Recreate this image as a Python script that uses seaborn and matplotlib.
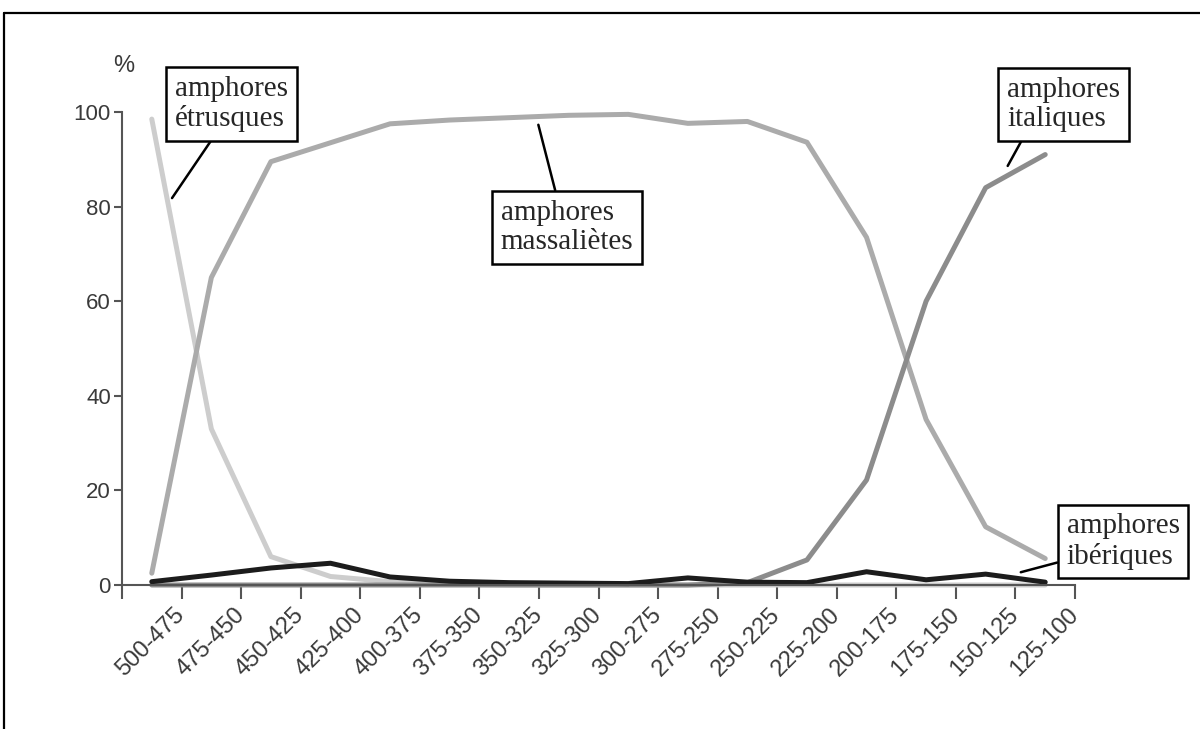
import numpy as np
import pandas as pd
import matplotlib
matplotlib.use("Agg")
import matplotlib.pyplot as plt
import seaborn as sns

# ----------------------------------------------------------------------
# data (percent of amphorae per 25-year period)
# ----------------------------------------------------------------------
periods = ["500-475", "475-450", "450-425", "425-400", "400-375", "375-350",
           "350-325", "325-300", "300-275", "275-250", "250-225", "225-200",
           "200-175", "175-150", "150-125", "125-100"]

etrusques = [98.5, 33, 6, 1.8, 0.7, 0.2, 0, 0, 0, 0, 0, 0, 0, 0, 0, 0]
massaliotes = [2.5, 65, 89.5, 93.5, 97.5, 98.3, 98.8, 99.3, 99.5, 97.6,
               98, 93.6, 73.5, 35, 12.3, 5.6]
italiques = [0, 0, 0, 0, 0, 0, 0, 0, 0, 0, 0.5, 5.3, 22.2, 60, 84, 91]
iberiques = [0.7, 2.1, 3.6, 4.6, 1.7, 0.8, 0.5, 0.4, 0.3, 1.5, 0.6, 0.5,
             2.8, 1.1, 2.3, 0.6]

series_names = ["amphores étrusques", "amphores massaliètes",
                "amphores italiques", "amphores ibériques"]
series_colors = ["#cdcdcd", "#ababab", "#8c8c8c", "#1c1c1c"]

# long-form table for seaborn
pos = np.arange(len(periods))
df = pd.concat([
    pd.DataFrame({"pos": pos, "value": vals, "series": name})
    for name, vals in zip(series_names,
                          [etrusques, massaliotes, italiques, iberiques])
], ignore_index=True)

# ----------------------------------------------------------------------
# plot
# ----------------------------------------------------------------------
sns.set_style("white")
plt.rcParams["font.family"] = ["Liberation Sans", "DejaVu Sans"]

fig = plt.figure(figsize=(12, 7.29), dpi=100)
ax = fig.add_axes([122 / 1200, 1 - 585 / 729, 953 / 1200, 473 / 729])

sns.lineplot(data=df, x="pos", y="value", hue="series",
             hue_order=series_names, palette=series_colors,
             linewidth=3.6, legend=False, ax=ax, clip_on=False)
for ln in ax.lines:
    ln.set_solid_joinstyle("round")
    ln.set_solid_capstyle("round")

ax.set_xlim(-0.5, len(periods) - 0.5)
ax.set_ylim(0, 100)

# axes styling
for side in ["top", "right"]:
    ax.spines[side].set_visible(False)
for side in ["left", "bottom"]:
    ax.spines[side].set_color("#555555")
    ax.spines[side].set_linewidth(1.5)

ax.set_yticks([0, 20, 40, 60, 80, 100])
ax.tick_params(axis="y", length=6, width=1.5, color="#555555",
               labelsize=16, labelcolor="#3a3a3a", left=True, pad=2)

ax.set_xticks(np.arange(-0.5, len(periods), 1))
ax.set_xticklabels([""] + periods, rotation=45, ha="right",
                   va="center", rotation_mode="anchor")
ax.tick_params(axis="x", length=10, width=1.5, color="#555555",
               labelsize=17, labelcolor="#3a3a3a", bottom=True, pad=9)

ax.set_xlabel("")
ax.set_ylabel("")
ax.text(-0.47, 109.8, "%", ha="center", va="center", fontsize=17,
        color="#3a3a3a")

# ----------------------------------------------------------------------
# callout boxes
# ----------------------------------------------------------------------
box = dict(boxstyle="square,pad=0.3", fc="white", ec="black", lw=1.8)
serif = ["Liberation Serif", "DejaVu Serif"]

callouts = [
    # text, target (x, y), box centre (x, y), relpos on box
    ("amphores\nétrusques", (0.34, 81.8), (1.34, 101.7), (0.37, 0.0)),
    ("amphores\nmassaliètes", (6.49, 97.3), (6.97, 75.6), (0.43, 1.0)),
    ("amphores\nitaliques", (14.37, 88.6), (15.31, 101.6), (0.17, 0.0)),
    ("amphores\nibériques", (14.59, 2.7), (16.31, 9.2), (0.0, 0.17)),
]
for txt, xy, xytext, rel in callouts:
    ax.annotate(txt, xy=xy, xytext=xytext, ha="center", va="center",
                multialignment="left", fontsize=21, family=serif,
                linespacing=1.15, bbox=box, annotation_clip=False,
                arrowprops=dict(arrowstyle="-", lw=1.8, color="black",
                                relpos=rel, shrinkA=0, shrinkB=0))

# figure frame (top and left edges visible in the original scan)
fig.add_artist(plt.Line2D([4 / 1200, 1.0], [1 - 13 / 729, 1 - 13 / 729],
                          transform=fig.transFigure, color="black", lw=1.6))
fig.add_artist(plt.Line2D([4 / 1200, 4 / 1200], [0.0, 1 - 13 / 729],
                          transform=fig.transFigure, color="black", lw=1.6))

fig.savefig("out.png", dpi=100)
